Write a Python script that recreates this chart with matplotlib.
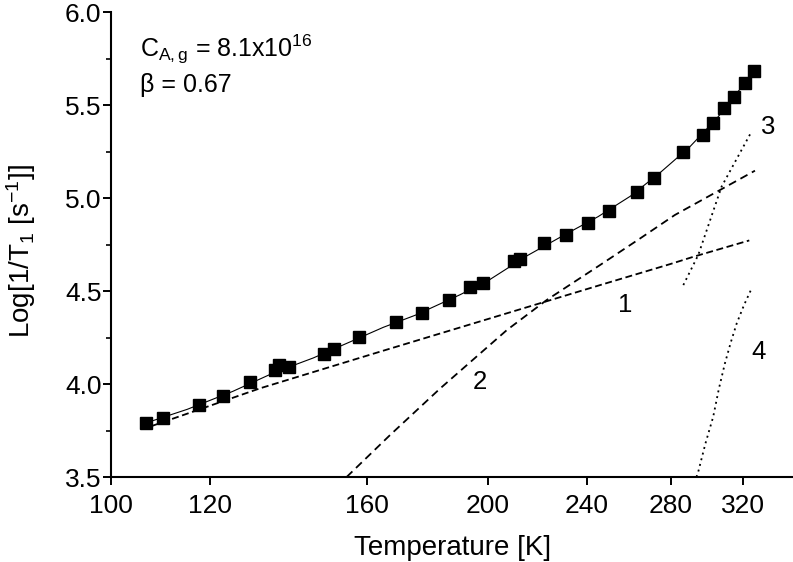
import numpy as np
import matplotlib
matplotlib.use("Agg")
import matplotlib.pyplot as plt
from matplotlib.ticker import FixedLocator, FixedFormatter, MultipleLocator, NullLocator

plt.rcParams['font.family'] = ['Liberation Sans', 'DejaVu Sans']
plt.rcParams['mathtext.fontset'] = 'custom'
plt.rcParams['mathtext.rm'] = 'Liberation Sans'
plt.rcParams['mathtext.it'] = 'Liberation Sans:italic'
plt.rcParams['lines.scale_dashes'] = False

# measured relaxation rates
temp = [106.5, 109.9, 117.5, 122.9, 129.1, 135.1, 136.2, 138.7, 148.0, 150.8,
        157.9, 168.9, 177.3, 186.1, 193.6, 198.2, 209.7, 212.3, 221.8, 230.9,
        240.3, 250.0, 263.0, 271.5, 286.6, 296.9, 302.6, 308.7, 314.8, 321.2, 326.6]
rate = [3.789, 3.816, 3.887, 3.937, 4.010, 4.075, 4.102, 4.090, 4.161, 4.186,
        4.251, 4.333, 4.383, 4.452, 4.520, 4.545, 4.661, 4.674, 4.756, 4.801,
        4.867, 4.930, 5.032, 5.109, 5.246, 5.339, 5.402, 5.486, 5.545, 5.620, 5.681]

# total fit
fit_t = [106.5, 115, 125, 135, 145, 155, 165, 175, 190, 200, 215, 230, 245,
         260, 275, 290, 305, 315, 326.6]
fit_v = [3.79, 3.864, 3.96, 4.062, 4.14, 4.225, 4.305, 4.37, 4.48, 4.555, 4.69,
         4.80, 4.90, 5.01, 5.14, 5.275, 5.43, 5.55, 5.68]

# contributions 1..4
c1_t = [107.8, 131.5, 164.0, 245.9, 279.8, 291.9, 323.6]
c1_v = [3.775, 3.977, 4.174, 4.532, 4.645, 4.684, 4.772]
c2_t = [154.2, 167.0, 183.1, 207.1, 222.9, 245.9, 265.0, 282.2, 306.6, 327.0]
c2_v = [3.50, 3.725, 3.975, 4.29, 4.452, 4.640, 4.785, 4.909, 5.043, 5.147]
c3_t = [286.6, 294.6, 307.5, 324.4]
c3_v = [4.532, 4.694, 5.061, 5.348]
c4_t = [293.6, 294.6, 298.5, 302.8, 306.0, 309.4, 312.8, 316.2, 320.5, 325.0]
c4_v = [3.50, 3.529, 3.68, 3.824, 3.975, 4.111, 4.225, 4.326, 4.425, 4.514]

labels = ['1', '2', '3', '4']
label_t = [257.3, 196.9, 334.9, 329.3]
label_v = [4.425, 4.012, 5.382, 4.174]

xticks = [100, 120, 160, 200, 240, 280, 320]

fig = plt.figure(figsize=(7.93, 5.62), dpi=100)
ax = fig.add_axes([0.1404, 0.1512, 0.8582, 0.8274])

ax.plot(fit_t, fit_v, '-', color='black', lw=0.8)
ax.plot(temp, rate, 's', color='black', ms=8.4, mec='black')
ax.plot(c1_t, c1_v, color='black', lw=1.3, dashes=(5, 2.6))
ax.plot(c2_t, c2_v, color='black', lw=1.3, dashes=(5.8, 3.6))
ax.plot(c3_t, c3_v, color='black', lw=1.3, dashes=(1.4, 2.8))
ax.plot(c4_t, c4_v, color='black', lw=1.3, dashes=(1.4, 2.8))

for lab, t, v in zip(labels, label_t, label_v):
    ax.text(t, v, lab, fontsize=18.5, ha='center', va='center')

ax.set_xscale('log')
ax.set_xlim(100, 350)
ax.set_ylim(3.5, 6.0)
ax.xaxis.set_major_locator(FixedLocator(xticks))
ax.xaxis.set_major_formatter(FixedFormatter([str(t) for t in xticks]))
ax.xaxis.set_minor_locator(NullLocator())
ax.yaxis.set_major_locator(MultipleLocator(0.5))
ax.yaxis.set_minor_locator(MultipleLocator(0.25))
ax.yaxis.set_major_formatter(plt.FuncFormatter(lambda v, p: f'{v:.1f}'))

for s in ['top', 'right']:
    ax.spines[s].set_visible(False)
for s in ['left', 'bottom']:
    ax.spines[s].set_linewidth(1.5)
ax.tick_params(which='major', length=6, width=1.4, labelsize=19)
ax.tick_params(which='minor', length=3.5, width=1.2)
ax.tick_params(axis='y', pad=1)
ax.tick_params(axis='x', pad=6)

ax.set_xlabel('Temperature [K]', fontsize=20)
ax.set_ylabel(r'Log[1/T$_{1}$ [s$^{-1}$]]', fontsize=20)
ax.xaxis.set_label_coords(0.5018, -0.125)
ax.yaxis.set_label_coords(-0.1077, 0.486)

fig.text(140 / 793, 1 - 57 / 562, r'C$_{\mathrm{A,g}}$ = 8.1x10$^{16}$', fontsize=18, va='baseline')
fig.text(140 / 793, 1 - 92 / 562, 'β = 0.67', fontsize=18, va='baseline')

fig.savefig('out.png', dpi=100)
